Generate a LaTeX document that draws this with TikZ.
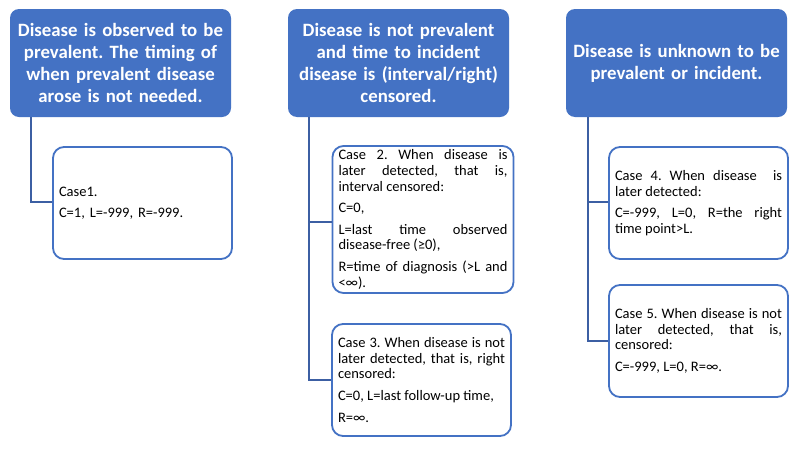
\documentclass[tikz,border=0pt]{standalone}
\usepackage{fontspec}
\setmainfont{Carlito}
\definecolor{hdrblue}{HTML}{4472C4}
\definecolor{lineblue}{HTML}{3C5FA3}
\begin{document}
\frenchspacing
\hyphenpenalty=10000
\exhyphenpenalty=10000
\begin{tikzpicture}[x=1pt,y=-1pt,
  hdr/.style={fill=hdrblue, draw=none, rounded corners=9pt, text=white,
    minimum width=221pt, minimum height=108pt, text width=221pt, align=center, inner sep=0pt,
    font=\fontsize{18.8}{22}\selectfont\bfseries},
  casebox/.style={draw=hdrblue, line width=1.8pt, rounded corners=11pt, fill=white,
    minimum height=112pt, inner xsep=6pt, inner ysep=2pt, align=justify,
    font=\fontsize{14.5}{15.6}\selectfont},
  conn/.style={draw=lineblue, line width=2pt}
]
\useasboundingbox (0,0) rectangle (799,450);
\fill[white] (0,0) rectangle (799,450);

\node[hdr] (h1) at (120.5,63) {Disease is observed to be\\ prevalent. The timing of\\ when prevalent disease\\ arose is not needed.};
\node[hdr] (h2) at (398.5,63) {Disease is not prevalent\\ and time to incident\\ disease is (interval/right)\\ censored.};
\node[hdr] (h3) at (676.5,63) {Disease is unknown to be\\ prevalent or incident.};

\node[casebox, text width=167pt, align=left] (c1) at (142.5,203) {Case1.\par\vspace{5pt}C=1, L=-999, R=-999.};
\node[casebox, text width=169pt, minimum height=147pt] (c2) at (423,219.5) {Case 2. When disease is\linebreak later detected, that is,\linebreak interval censored:\par\vspace{6pt}C=0,\par\vspace{6pt}L=last time observed\linebreak disease-free (≥0),\par\vspace{6pt}R=time of diagnosis (>L and\linebreak <∞).};
\node[casebox, text width=167pt] (c3) at (421.5,380) {Case 3. When disease is not\linebreak later detected, that is, right\linebreak censored:\par\vspace{6pt}C=0, L=last follow-up time,\par\vspace{6pt}R=∞.};
\node[casebox, text width=167pt] (c4) at (698.5,203) {Case 4. When disease\ \ is\linebreak later detected:\par\vspace{6pt}C=-999, L=0, R=the right\linebreak time point>L.};
\node[casebox, text width=167pt] (c5) at (698.5,341) {Case 5. When disease is not\linebreak later detected, that is,\linebreak censored:\par\vspace{6pt}C=-999, L=0, R=∞.};

\draw[conn] ([xshift=21pt]h1.south west) |- ([yshift=1.5pt]c1.west);
\draw[conn] ([xshift=21pt]h2.south west) |- ([yshift=-2pt]c2.west);
\draw[conn] ([xshift=21pt]h2.south west) |- (c3.west);
\draw[conn] ([xshift=22pt]h3.south west) |- ([yshift=1pt]c4.west);
\draw[conn] ([xshift=22pt]h3.south west) |- (c5.west);
\end{tikzpicture}
\end{document}
